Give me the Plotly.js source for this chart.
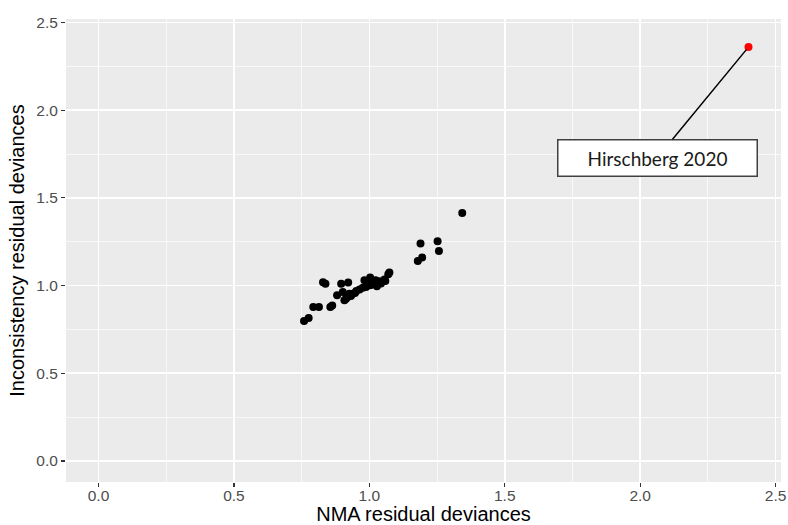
<!DOCTYPE html>
<html>
<head>
<meta charset="utf-8">
<script src="https://cdn.plot.ly/plotly-3.0.1.min.js"></script>
<style>html,body{margin:0;padding:0;background:#fff;}#chart{width:788px;height:525px;}</style>
</head>
<body>
<div id="chart"></div>
<script>
// NMA residual deviances (x) vs inconsistency residual deviances (y)
var nmaDev = [0.759, 0.776, 0.793, 0.814, 0.829, 0.838, 0.856, 0.863, 0.881, 0.896,
              0.922, 0.902, 0.908, 0.920, 0.926, 0.939, 0.952, 0.964, 0.976, 0.982,
              0.994, 1.003, 1.001, 1.013, 1.023, 1.028, 1.037, 1.056, 1.059, 1.074,
              1.070, 1.179, 1.195, 1.189, 1.252, 1.257, 1.343, 0.947, 0.988, 1.008,
              1.043, 0.932, 0.914];
var incDev = [0.798, 0.815, 0.878, 0.878, 1.019, 1.011, 0.878, 0.886, 0.945, 1.011,
              1.017, 0.964, 0.916, 0.935, 0.954, 0.954, 0.969, 0.977, 0.988, 1.030,
              1.021, 1.046, 1.002, 1.011, 1.030, 0.996, 1.024, 1.034, 1.026, 1.074,
              1.064, 1.140, 1.160, 1.240, 1.253, 1.197, 1.414, 0.958, 0.992, 1.005,
              1.012, 0.940, 0.925];
var outlierName = ["Hirschberg 2020"];
var outlierX = [2.40];
var outlierY = [2.36];
var labelPos = [2.064, 1.730];

var xTicks = [0, 0.5, 1, 1.5, 2, 2.5];
var xTickText = ["0.0", "0.5", "1.0", "1.5", "2.0", "2.5"];
var yTicks = [0, 0.5, 1, 1.5, 2, 2.5];
var yTickText = ["0.0", "0.5", "1.0", "1.5", "2.0", "2.5"];

var sansFont = "Arial, 'Liberation Sans', sans-serif";

var traces = [
  {x: nmaDev, y: incDev, type: 'scatter', mode: 'markers',
   marker: {color: '#000000', size: 8}, hoverinfo: 'x+y'},
  {x: outlierX, y: outlierY, type: 'scatter', mode: 'markers',
   marker: {color: '#ff0000', size: 8}, text: outlierName, hoverinfo: 'text'}
];

var axisCommon = {
  showgrid: true, gridcolor: '#ffffff', gridwidth: 1.6,
  zeroline: false, showline: false,
  ticks: 'outside', ticklen: 4, tickwidth: 1.2, tickcolor: '#333333',
  ticklabeloverflow: 'allow',
  tickfont: {family: sansFont, size: 15.5, color: '#4d4d4d'}
};

var layout = {
  width: 788, height: 525,
  margin: {l: 66, r: 7, t: 19, b: 43},
  paper_bgcolor: '#ffffff', plot_bgcolor: '#ebebeb',
  showlegend: false,
  xaxis: Object.assign({}, axisCommon, {
    range: [-0.12, 2.52], tickvals: xTicks, ticktext: xTickText,
    ticklabelstandoff: -5,
    minor: {tick0: 0.25, dtick: 0.5, showgrid: true, gridcolor: '#ffffff', gridwidth: 0.7},
    title: {text: 'NMA residual deviances', standoff: 4,
            font: {family: sansFont, size: 20, color: '#000000'}}
  }),
  yaxis: Object.assign({}, axisCommon, {
    range: [-0.12, 2.52], tickvals: yTicks, ticktext: yTickText,
    minor: {tick0: 0.25, dtick: 0.5, showgrid: true, gridcolor: '#ffffff', gridwidth: 0.7},
    title: {text: 'Inconsistency residual deviances', standoff: 6,
            font: {family: sansFont, size: 20, color: '#000000'}}
  }),
  annotations: [{
    x: outlierX[0], y: outlierY[0], xref: 'x', yref: 'y',
    ax: labelPos[0], ay: labelPos[1], axref: 'x', ayref: 'y',
    text: outlierName[0], showarrow: true, arrowhead: 0, arrowwidth: 1.5,
    arrowcolor: '#000000', standoff: 3,
    font: {family: 'Lato, Open Sans, sans-serif', size: 19, color: '#1a1a1a'},
    bgcolor: '#ffffff', bordercolor: '#404040', borderwidth: 1.5, borderpad: 1,
    width: 196, height: 33
  }]
};

Plotly.newPlot('chart', traces, layout, {displayModeBar: false, staticPlot: true});
</script>
</body>
</html>
